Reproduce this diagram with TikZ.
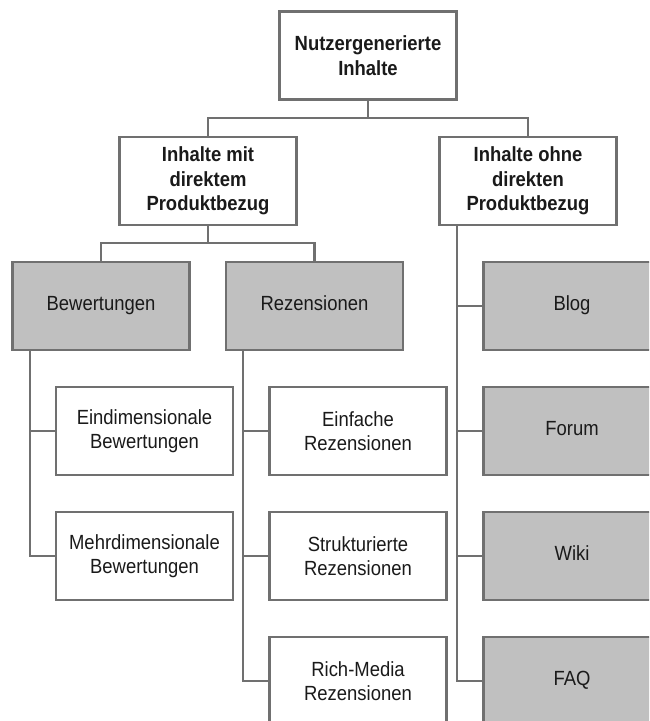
\documentclass[tikz,border=0pt]{standalone}
\usepackage{fontspec}
\setmainfont{Liberation Sans}[FakeStretch=0.9]
\definecolor{linegray}{HTML}{707070}
\definecolor{boxgray}{HTML}{C0C0C0}
\definecolor{txt}{HTML}{1A1A1A}
\begin{document}
\begin{tikzpicture}[x=1pt,y=-1pt,
  box/.style={rectangle, draw=linegray, line width=2.8pt, minimum width=177pt, minimum height=88pt,
    inner sep=0pt, align=center, text=txt, font=\fontsize{20.5}{24.5}\selectfont},
  headbox/.style={box, fill=white, font=\fontsize{20.5}{24.5}\selectfont\bfseries},
  whitebox/.style={box, fill=white},
  graybox/.style={box, fill=boxgray},
  conn/.style={draw=linegray, line width=2.8pt, line join=miter}]
\useasboundingbox (0,0) rectangle (649,721);
\clip (0,0) rectangle (649,721);
% nodes
\node[headbox] (root) at (368,55.5) {Nutzergenerierte\\Inhalte};
\node[headbox] (l2l) at (208,181) {Inhalte mit\\direktem\\Produktbezug};
\node[headbox] (l2r) at (528,181) {Inhalte ohne\\direkten\\Produktbezug};
\node[graybox] (bew) at (101,306) {\strut Bewertungen};
\node[graybox] (rez) at (314.5,306) {\strut Rezensionen};
\node[graybox] (blog) at (572,306) {\strut Blog};
\node[whitebox] (eindim) at (144.5,431) {Eindimensionale\\Bewertungen};
\node[whitebox] (einf) at (358,431) {Einfache\\Rezensionen};
\node[graybox] (forum) at (572,431) {\strut Forum};
\node[whitebox] (mehr) at (144.5,556) {Mehrdimensionale\\Bewertungen};
\node[whitebox] (strukt) at (358,556) {Strukturierte\\Rezensionen};
\node[graybox] (wiki) at (572,556) {\strut Wiki};
\node[whitebox] (rich) at (358,681) {Rich-Media\\Rezensionen};
\node[graybox] (faq) at (572,681) {\strut FAQ};
% junctions
\coordinate (j1) at (368,118);
\coordinate (j2) at (208,243);
\coordinate (vb) at ([xshift=-71pt]bew.south);
\coordinate (vr) at ([xshift=-71.5pt]rez.south);
\coordinate (vo) at ([xshift=-71pt]l2r.south);
% connectors
\draw[conn] (root.south) -- (j1);
\draw[conn] (l2l.north) |- (j1) -| (l2r.north);
\draw[conn] (l2l.south) -- (j2);
\draw[conn] (bew.north) |- (j2) -| (rez.north);
\draw[conn] (vb) |- (eindim.west);
\draw[conn] (vb) |- (mehr.west);
\draw[conn] (vr) |- (einf.west);
\draw[conn] (vr) |- (strukt.west);
\draw[conn] (vr) |- (rich.west);
\draw[conn] (vo) |- (blog.west);
\draw[conn] (vo) |- (forum.west);
\draw[conn] (vo) |- (wiki.west);
\draw[conn] (vo) |- (faq.west);
\end{tikzpicture}
\end{document}
